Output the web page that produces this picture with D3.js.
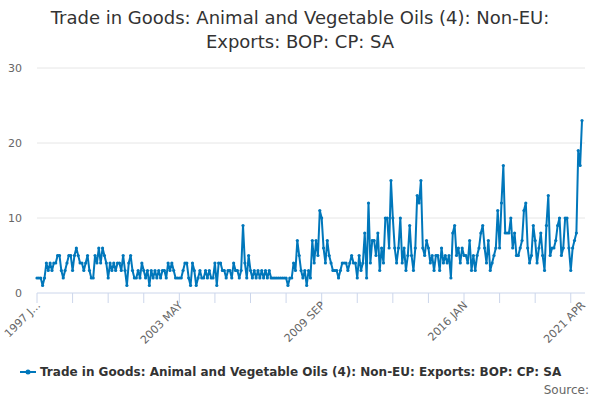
<!DOCTYPE html>
<html><head><meta charset="utf-8">
<script src="https://cdn.jsdelivr.net/npm/d3@7"></script>
<style>body{margin:0;background:#fff;font-family:"DejaVu Sans",sans-serif;}</style>
</head><body><svg id="c" width="600" height="400"></svg>
<script>
// monthly values, 1997 Jan .. 2021 Apr
const values = [
  2,2,2,1,2,4,3,4,3,4,4,5,
  5,3,2,3,4,5,5,3,5,6,5,4,
  4,3,4,5,3,2,2,5,4,6,4,6,
  5,4,2,4,3,4,3,4,4,3,5,3,
  1,4,5,3,2,2,3,2,4,3,2,3,
  1,3,2,3,2,3,2,3,3,2,4,3,
  4,3,2,2,2,2,3,4,4,2,1,4,
  3,1,2,3,2,2,3,2,3,2,2,4,
  1,4,4,3,3,2,3,3,2,4,3,3,
  2,3,9,4,2,5,3,2,3,2,3,2,
  3,2,3,2,3,2,2,2,2,2,2,2,
  2,2,1,2,2,4,3,7,5,3,2,3,
  1,3,2,7,4,7,5,11,10,6,4,7,
  5,4,3,3,3,2,3,4,4,4,3,4,
  5,4,4,2,5,3,4,8,2,12,4,7,
  7,5,8,3,6,4,10,10,6,15,10,6,
  4,6,10,4,6,3,5,9,5,3,6,13,
  12,15,6,5,7,6,4,5,3,5,5,3,
  6,4,5,4,5,2,8,9,5,6,4,6,
  5,5,4,7,3,5,3,5,6,8,9,6,
  4,7,3,4,5,6,11,6,12,17,8,8,
  8,10,6,8,5,5,6,7,11,12,6,4,
  5,9,7,4,6,8,5,3,9,13,5,6,
  6,7,9,10,5,6,10,10,6,3,6,7,
  8,19,17,23
];
const yTicks = [0, 10, 20, 30];
const xLabels = ["1997 JAN", "2003 MAY", "2009 SEP", "2016 JAN", "2021 APR"];
const xLabelIdx = [0, 76, 152, 228, 291];
const seriesName = "Trade in Goods: Animal and Vegetable Oils (4): Non-EU: Exports: BOP: CP: SA";

const svg = d3.select('#c');
const color = '#0077bb';
const x = d3.scaleLinear().domain([0, values.length - 1]).range([37, 582]);
const y = d3.scaleLinear().domain([0, 30]).range([293, 68]);

// title
svg.append('text').attr('x', 300).attr('y', 24).attr('text-anchor', 'middle')
  .style('font-size', '18px').attr('fill', '#333')
  .text('Trade in Goods: Animal and Vegetable Oils (4): Non-EU:');
svg.append('text').attr('x', 300).attr('y', 48).attr('text-anchor', 'middle')
  .style('font-size', '18px').attr('fill', '#333')
  .text('Exports: BOP: CP: SA');

// gridlines + y labels
yTicks.forEach(t => {
  svg.append('line').attr('x1', 37).attr('x2', 585).attr('y1', y(t)).attr('y2', y(t))
    .attr('stroke', t === 0 ? '#ccd6eb' : '#e6e6e6');
  svg.append('text').attr('x', 22).attr('y', y(t) + 4).attr('text-anchor', 'end')
    .style('font-size', '11px').attr('fill', '#666').text(t);
});

// x tick marks
for (let i = 0; i < values.length; i += 19) {
  svg.append('line').attr('x1', x(i)).attr('x2', x(i)).attr('y1', 293).attr('y2', 303)
    .attr('stroke', '#ccd6eb');
}
xLabels.forEach((l, i) => {
  const px = x(xLabelIdx[i]);
  svg.append('text').attr('transform', `translate(${px + 4},${306}) rotate(-45)`)
    .attr('text-anchor', 'end').style('font-size', '11px').attr('fill', '#666')
    .text(i === 0 ? '1997 J...' : l);
});

// series
const line = d3.line().x((d, i) => x(i)).y(d => y(d));
svg.append('path').datum(values).attr('d', line).attr('fill', 'none')
  .attr('stroke', color).attr('stroke-width', 2);
svg.selectAll('.pt').data(values).enter().append('circle')
  .attr('cx', (d, i) => x(i)).attr('cy', d => y(d)).attr('r', 1.6).attr('fill', color);

// legend
svg.append('line').attr('x1', 20).attr('x2', 36).attr('y1', 372).attr('y2', 372)
  .attr('stroke', color).attr('stroke-width', 2);
svg.append('circle').attr('cx', 28).attr('cy', 372).attr('r', 2.5).attr('fill', color);
svg.append('text').attr('x', 40).attr('y', 376).style('font-size', '12px')
  .style('font-weight', 'bold').attr('fill', '#333').text(seriesName);
svg.append('text').attr('x', 589).attr('y', 394).attr('text-anchor', 'end')
  .style('font-size', '12px').attr('fill', '#666').text('Source:');
</script></body></html>
